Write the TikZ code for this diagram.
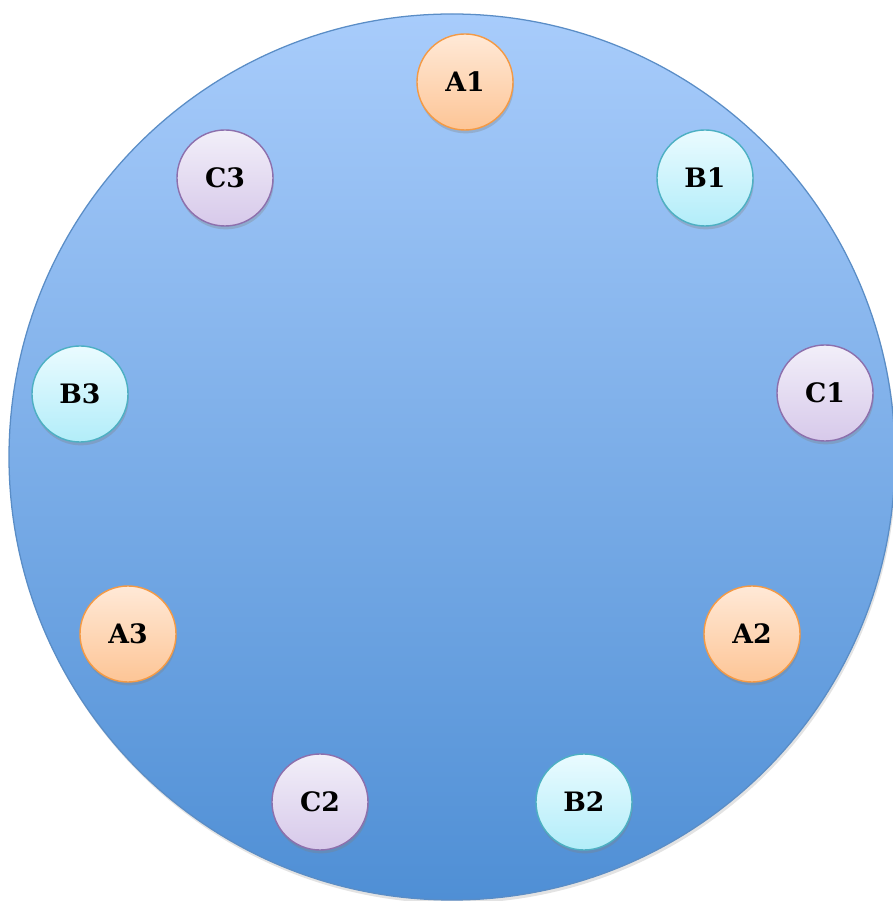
\documentclass[tikz,border=0pt]{standalone}
\usepackage{fontspec}
\setmainfont{DejaVu Serif}
\usetikzlibrary{shadows}

% ring and replica colours
\definecolor{ringtop}{HTML}{A8CCFB}
\definecolor{ringbot}{HTML}{4F8FD5}
\definecolor{ringedge}{HTML}{5A8DC6}
\definecolor{atop}{HTML}{FFE9D7}
\definecolor{abot}{HTML}{FDC596}
\definecolor{aedge}{HTML}{F49A45}
\definecolor{btop}{HTML}{EAFBFF}
\definecolor{bbot}{HTML}{B2EDF9}
\definecolor{bedge}{HTML}{4DB0C3}
\definecolor{ctop}{HTML}{F2EFF9}
\definecolor{cbot}{HTML}{D7C9EA}
\definecolor{cedge}{HTML}{8D70AD}

\tikzset{
  vnode/.style={circle, minimum size=2.4cm, inner sep=0pt, line width=1pt,
    font=\bfseries\fontsize{19}{22}\selectfont,
    drop shadow={shadow xshift=0.6pt, shadow yshift=-2.4pt, opacity=0.32}},
  anode/.style={vnode, draw=aedge, top color=atop, bottom color=abot},
  bnode/.style={vnode, draw=bedge, top color=btop, bottom color=bbot},
  cnode/.style={vnode, draw=cedge, top color=ctop, bottom color=cbot}
}

\begin{document}
\begin{tikzpicture}[x=0.025cm, y=0.025cm]
  \useasboundingbox (0,0) rectangle (893,901);

  % Hash ring
  \path[draw=ringedge, line width=0.9pt, top color=ringtop, bottom color=ringbot,
    drop shadow={shadow xshift=1pt, shadow yshift=-2.5pt, opacity=0.22}]
    (452,444) circle (443);

  % Replicas of A
  \node[anode] (A1) at (465,819) {A1};
  \node[anode] (A2) at (752,267) {A2};
  \node[anode] (A3) at (128,267) {A3};

  % Replicas of B
  \node[bnode] (B1) at (705,723) {B1};
  \node[bnode] (B2) at (584,99)  {B2};
  \node[bnode] (B3) at (80,507)  {B3};

  % Replicas of C
  \node[cnode] (C1) at (825,508) {C1};
  \node[cnode] (C2) at (320,99)  {C2};
  \node[cnode] (C3) at (225,723) {C3};
\end{tikzpicture}
\end{document}
